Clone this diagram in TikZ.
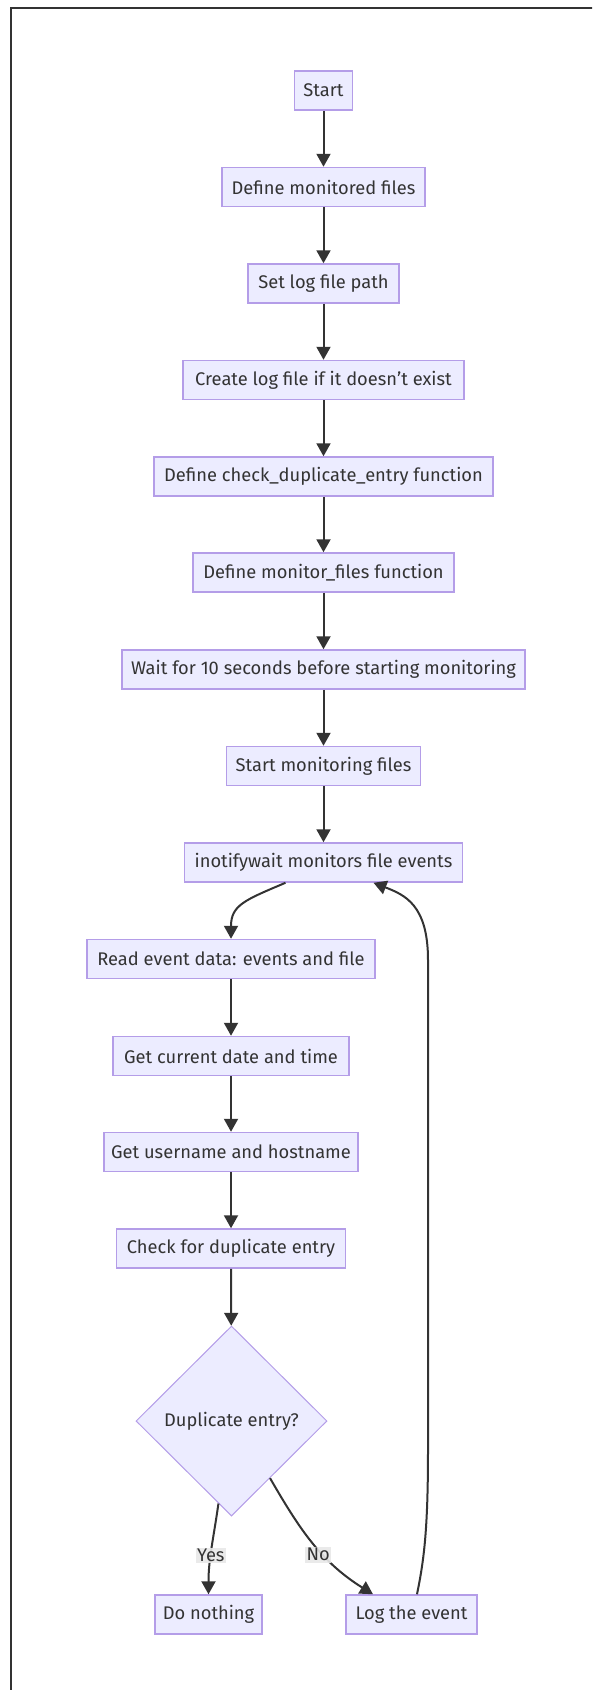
\documentclass[tikz,border=0pt]{standalone}
\usepackage{fontspec}
\setsansfont{Fira Sans}
\usetikzlibrary{arrows.meta,shapes.geometric}
\definecolor{boxfill}{HTML}{ECECFF}
\definecolor{boxline}{HTML}{B49DE8}
\definecolor{inkgray}{HTML}{333333}
\definecolor{labelfill}{HTML}{E8E8E8}
\tikzset{
  txt/.style={text=inkgray, font=\sffamily\fontsize{18.3}{22}\selectfont},
  box/.style={txt, draw=boxline, fill=boxfill, line width=1.5pt,
    minimum height=39pt, inner sep=0pt},
  decision/.style={txt, diamond, aspect=1, draw=boxline, fill=boxfill,
    line width=1pt, minimum width=191pt, minimum height=190pt, inner sep=0pt},
  flow/.style={draw=inkgray, line width=2pt, -{Triangle[length=13pt,width=14pt]}},
  edgelabel/.style={txt, fill=labelfill, fill opacity=0.9, text opacity=1,
    inner sep=1.5pt}
}
\begin{document}
\begin{tikzpicture}[x=1pt,y=-1pt]
      \clip (0,0) rectangle (592,1690);
      \draw[inkgray, line width=2pt] (10.5,7.5) rectangle (640,1720);
      \draw
        (323.5,90.5) node[box, minimum width=58pt] (start){Start}
        (323.5,187) node[box, minimum width=203pt] (defmon){Define monitored files}
        (323.5,283.5) node[box, minimum width=151pt] (setlog){Set log file path}
        (323.5,380) node[box, minimum width=281pt] (mklog){Create log file if it doesn't exist}
        (323.5,476.5) node[box, minimum width=339pt] (defcheck){Define check\_duplicate\_entry function}
        (323.5,572.5) node[box, minimum width=261pt] (defmonfn){Define monitor\_files function}
        (323.5,669.5) node[box, minimum width=403pt] (wait){Wait for 10 seconds before starting monitoring}
        (323.5,766) node[box, minimum width=194pt] (startmon){Start monitoring files}
        (323.5,862.5) node[box, minimum width=278pt] (inotify){inotifywait monitors file events}
        (231,959) node[box, minimum width=288pt] (readev){Read event data: events and file}
        (231,1056) node[box, minimum width=236pt] (getdate){Get current date and time}
        (231,1152) node[box, minimum width=254pt] (getuser){Get username and hostname}
        (231,1248.5) node[box, minimum width=229pt] (checkdup){Check for duplicate entry}
        (231.5,1421) node[decision] (isdup){Duplicate entry?}
        (208.5,1614.5) node[box, minimum width=107pt] (nothing){Do nothing}
        (411.5,1614.5) node[box, minimum width=131pt] (logev){Log the event};
      \begin{scope}[flow]
        \draw (start) to (defmon);
        \draw (defmon) to (setlog);
        \draw (setlog) to (mklog);
        \draw (mklog) to (defcheck);
        \draw (defcheck) to (defmonfn);
        \draw (defmonfn) to (wait);
        \draw (wait) to (startmon);
        \draw (startmon) to (inotify);
        \draw ([xshift=-38pt]inotify.south) .. controls (245,900) and (231,905) .. (readev.north);
        \draw (readev) to (getdate);
        \draw (getdate) to (getuser);
        \draw (getuser) to (checkdup);
        \draw (checkdup) to (isdup);
        \draw (isdup.-99.5) to[out=-98,in=90]
          node[edgelabel, pos=0.58] (yes){Yes} (nothing.north);
        \draw (isdup.-56.4) to[out=-60,in=148]
          node[edgelabel, pos=0.6, xshift=-5pt] (no){No} ([xshift=-38.5pt]logev.north);
        \draw ([xshift=5.5pt]logev.north) .. controls (424,1560) and (428,1530) .. (428,1450)
          -- (428,960) .. controls (428,905) and (405,895) .. ([xshift=50pt]inotify.south);
      \end{scope}
    \end{tikzpicture}
\end{document}
